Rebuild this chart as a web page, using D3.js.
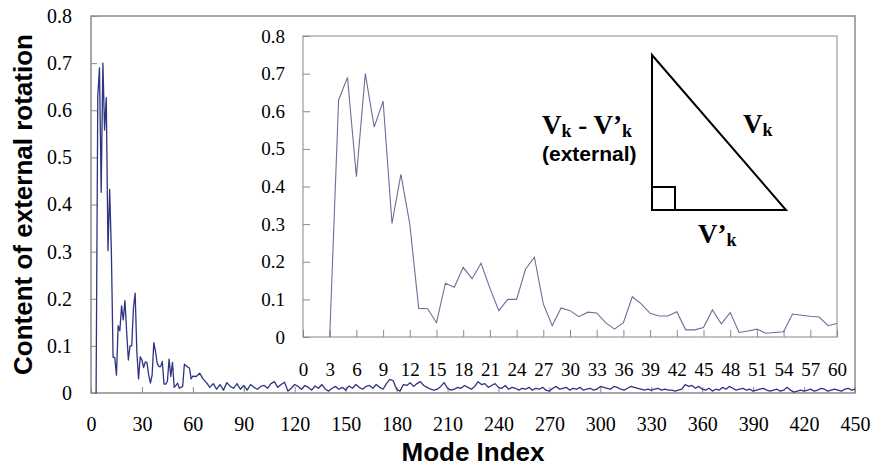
<!DOCTYPE html>
<html>
<head>
<meta charset="utf-8">
<script src="https://cdn.jsdelivr.net/npm/d3@7"></script>
<style>
  body { margin: 0; background: #fff; }
</style>
</head>
<body>
<script>
// content of external rotation for the first modes (3..60), shared by main chart and inset
var headModes = d3.range(3, 61);
var headValues = [
  0, 0.63, 0.69, 0.426, 0.70, 0.558, 0.627, 0.302, 0.432, 0.30,
  0.076, 0.075, 0.038, 0.143, 0.132, 0.185, 0.155, 0.196, 0.13, 0.07,
  0.10, 0.10, 0.18, 0.212, 0.088, 0.03, 0.077, 0.07, 0.054, 0.066,
  0.064, 0.038, 0.021, 0.038, 0.107, 0.088, 0.063, 0.056, 0.056, 0.067,
  0.019, 0.019, 0.025, 0.072, 0.035, 0.065, 0.012, 0.016, 0.021, 0.010,
  0.012, 0.014, 0.061, 0.058, 0.055, 0.053, 0.030, 0.036
];

// higher modes, read every second mode (62..450)
var tailModes = d3.range(62, 451, 2);
var tailValues = [
  0.035, 0.042, 0.030, 0.022, 0.012, 0.020, 0.008, 0.018, 0.006, 0.022,
  0.014, 0.010, 0.020, 0.008, 0.016, 0.006, 0.018, 0.012, 0.008, 0.014,
  0.016, 0.010, 0.020, 0.024, 0.012, 0.018, 0.023, 0.004, 0.010, 0.018,
  0.014, 0.008, 0.016, 0.012, 0.006, 0.015, 0.010, 0.018, 0.008, 0.004,
  0.010, 0.014, 0.008, 0.012, 0.006, 0.015, 0.010, 0.018, 0.012, 0.008,
  0.014, 0.016, 0.010, 0.018, 0.012, 0.008, 0.020, 0.029, 0.026, 0.008,
  0.004, 0.018, 0.016, 0.022, 0.014, 0.020, 0.024, 0.016, 0.012, 0.008,
  0.006, 0.008, 0.014, 0.022, 0.010, 0.006, 0.008, 0.012, 0.010, 0.016,
  0.012, 0.008, 0.014, 0.024, 0.018, 0.020, 0.012, 0.016, 0.020, 0.012,
  0.010, 0.016, 0.008, 0.012, 0.010, 0.006, 0.010, 0.008, 0.012, 0.006,
  0.010, 0.008, 0.012, 0.006, 0.004, 0.010, 0.014, 0.008, 0.010, 0.012,
  0.006, 0.010, 0.008, 0.012, 0.006, 0.008, 0.010, 0.006, 0.008, 0.014,
  0.012, 0.010, 0.008, 0.014, 0.012, 0.008, 0.006, 0.010, 0.014, 0.012,
  0.010, 0.008, 0.006, 0.008, 0.006, 0.008, 0.010, 0.006, 0.008, 0.006,
  0.006, 0.004, 0.006, 0.008, 0.018, 0.014, 0.016, 0.010, 0.014, 0.008,
  0.006, 0.010, 0.004, 0.008, 0.006, 0.012, 0.008, 0.014, 0.010, 0.006,
  0.008, 0.010, 0.006, 0.008, 0.004, 0.006, 0.008, 0.010, 0.006, 0.004,
  0.006, 0.008, 0.004, 0.006, 0.012, 0.006, 0.002, 0.004, 0.006, 0.004,
  0.006, 0.008, 0.004, 0.006, 0.010, 0.008, 0.004, 0.006, 0.008, 0.006,
  0.004, 0.008, 0.010, 0.006, 0.008
];

var yTicks = [0, 0.1, 0.2, 0.3, 0.4, 0.5, 0.6, 0.7, 0.8];
var mainXTicks = d3.range(0, 451, 30);
var insetXTicks = d3.range(0, 61, 3);

var headData = headModes.map(function(m, i) { return {mode: m, value: headValues[i]}; });
var allData = headData.concat(tailModes.map(function(m, i) { return {mode: m, value: tailValues[i]}; }));

var W = 873, H = 467;
var serif = "'Liberation Serif', 'Times New Roman', serif";
var sans = "'Liberation Sans', Arial, sans-serif";

var svg = d3.select("body").append("svg")
    .attr("width", W)
    .attr("height", H);

var fmt = function(d) { return d === 0 ? "0" : d.toFixed(1); };

function styleAxis(g, size) {
  g.attr("font-family", null);
  g.select(".domain").remove();
  g.selectAll(".tick line").attr("stroke", "#8a8a8a");
  g.selectAll(".tick text")
      .attr("fill", "#000")
      .attr("font-family", serif)
      .style("font-family", serif)
      .style("font-size", size + "px");
}

// main chart
var x = d3.scaleLinear().domain([0, 450]).range([91, 855]);
var y = d3.scaleLinear().domain([0, 0.8]).range([393, 16]);

svg.append("rect")
    .attr("x", x(0)).attr("y", y(0.8))
    .attr("width", x(450) - x(0)).attr("height", y(0) - y(0.8))
    .attr("fill", "none").attr("stroke", "#8a8a8a").attr("stroke-width", 1.5);

var gy = svg.append("g")
    .attr("transform", "translate(" + x(0) + ",0)")
    .call(d3.axisLeft(y).tickValues(yTicks).tickFormat(fmt).tickSize(-6).tickPadding(19));
var gx = svg.append("g")
    .attr("transform", "translate(0," + y(0) + ")")
    .call(d3.axisBottom(x).tickValues(mainXTicks).tickSize(-6).tickPadding(24));
styleAxis(gy, 20);
styleAxis(gx, 20);

var line = d3.line()
    .x(function(d) { return x(d.mode); })
    .y(function(d) { return y(d.value); });

svg.append("path")
    .datum(allData)
    .attr("fill", "none")
    .attr("stroke", "#2e3480")
    .attr("stroke-width", 1.3)
    .attr("stroke-linejoin", "round")
    .attr("d", line);

// axis titles
svg.append("text")
    .attr("transform", "translate(32," + ((y(0) + y(0.8)) / 2) + ") rotate(-90)")
    .style("text-anchor", "middle")
    .style("font-family", sans)
    .style("font-weight", "bold")
    .style("font-size", "26px")
    .text("Content of external rotation");

svg.append("text")
    .attr("x", (x(0) + x(450)) / 2)
    .attr("y", 461)
    .style("text-anchor", "middle")
    .style("font-family", sans)
    .style("font-weight", "bold")
    .style("font-size", "26px")
    .text("Mode Index");

// inset chart
var xi = d3.scaleLinear().domain([0, 60]).range([303, 837]);
var yi = d3.scaleLinear().domain([0, 0.8]).range([337, 36]);

svg.append("rect")
    .attr("x", xi(0)).attr("y", yi(0.8))
    .attr("width", xi(60) - xi(0)).attr("height", yi(0) - yi(0.8))
    .attr("fill", "#fff").attr("stroke", "#9a9a9a").attr("stroke-width", 1.2);

var giy = svg.append("g")
    .attr("transform", "translate(" + xi(0) + ",0)")
    .call(d3.axisLeft(yi).tickValues(yTicks).tickFormat(fmt).tickSize(-7).tickPadding(18));
var gix = svg.append("g")
    .attr("transform", "translate(0," + yi(0) + ")")
    .call(d3.axisBottom(xi).tickValues(insetXTicks).tickSize(-7).tickPadding(26));
styleAxis(giy, 19);
styleAxis(gix, 19);

var insetLine = d3.line()
    .x(function(d) { return xi(d.mode); })
    .y(function(d) { return yi(d.value); });

svg.append("path")
    .datum(headData)
    .attr("fill", "none")
    .attr("stroke", "#6b6f99")
    .attr("stroke-width", 1.1)
    .attr("d", insetLine);

// right triangle sketch
var tri = svg.append("g").attr("stroke", "#000").attr("stroke-width", 2).attr("fill", "none");
tri.append("path").attr("d", "M652,55 L652,210 L786,210 Z");
tri.append("path").attr("d", "M652,187 L675,187 L675,210");

function vLabel(px, py, prime) {
  var t = svg.append("text")
      .attr("x", px).attr("y", py)
      .style("font-family", serif)
      .style("font-weight", "bold");
  t.append("tspan").style("font-size", "27px").text(prime ? "V\u2019" : "V");
  t.append("tspan").style("font-size", "18px").attr("dy", 3).text("k");
  return t;
}

var left = svg.append("text")
    .attr("x", 542).attr("y", 134)
    .style("font-family", serif)
    .style("font-weight", "bold");
left.append("tspan").style("font-size", "27px").text("V");
left.append("tspan").style("font-size", "18px").attr("dy", 3).text("k");
left.append("tspan").style("font-size", "27px").attr("dy", -3).text(" - V\u2019");
left.append("tspan").style("font-size", "18px").attr("dy", 3).text("k");

svg.append("text")
    .attr("x", 542).attr("y", 161)
    .style("font-family", sans)
    .style("font-weight", "bold")
    .style("font-size", "21px")
    .text("(external)");

vLabel(743, 133, false);
vLabel(698, 243, true);
</script>
</body>
</html>
